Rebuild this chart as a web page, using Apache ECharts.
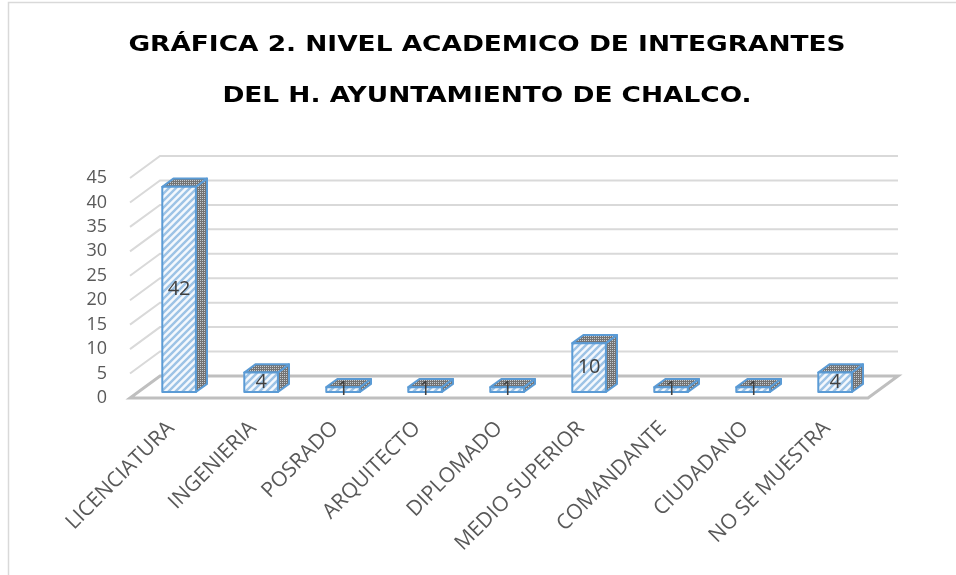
<!DOCTYPE html>
<html>
<head>
<meta charset="utf-8">
<script src="https://cdn.jsdelivr.net/npm/echarts@6/dist/echarts.min.js"></script>
<style>
html, body { margin: 0; background: #fff; }
#chart { width: 956px; height: 575px; }
</style>
</head>
<body>
<div id="chart"></div>
<script>
const categories = ['LICENCIATURA', 'INGENIERIA', 'POSRADO', 'ARQUITECTO', 'DIPLOMADO', 'MEDIO SUPERIOR', 'COMANDANTE', 'CIUDADANO', 'NO SE MUESTRA'];
const values = [42, 4, 1, 1, 1, 10, 1, 1, 4];
const yTicks = [0, 5, 10, 15, 20, 25, 30, 35, 40, 45];
const titleLines = ['GRÁFICA 2. NIVEL ACADEMICO DE INTEGRANTES', 'DEL H. AYUNTAMIENTO DE CHALCO.'];

// profundidad de la caja 3d (px)
const DX = 30, DY = -22;

// relleno rayado de la cara frontal
function stripePattern() {
    const s = 7;
    const c = document.createElement('canvas');
    c.width = s; c.height = s;
    const ctx = c.getContext('2d');
    ctx.fillStyle = '#F4F8FD';
    ctx.fillRect(0, 0, s, s);
    ctx.strokeStyle = '#9DC3E6';
    ctx.lineWidth = 2.4;
    ctx.beginPath();
    ctx.moveTo(-s / 2, s / 2); ctx.lineTo(s / 2, -s / 2);
    ctx.moveTo(0, s); ctx.lineTo(s, 0);
    ctx.moveTo(s / 2, s * 1.5); ctx.lineTo(s * 1.5, s / 2);
    ctx.stroke();
    return c;
}

// relleno punteado de los lados
function dotPattern() {
    const c = document.createElement('canvas');
    c.width = 2; c.height = 2;
    const ctx = c.getContext('2d');
    ctx.fillStyle = '#737373';
    ctx.fillRect(0, 0, 2, 2);
    ctx.fillStyle = '#C4CAD0';
    ctx.fillRect(0, 0, 1, 1);
    return c;
}

const stripes = { image: stripePattern(), repeat: 'repeat' };
const dots = { image: dotPattern(), repeat: 'repeat' };

const chart = echarts.init(document.getElementById('chart'));

// titulo: texto ensanchado para imitar el espaciado entre letras
const titleText = titleLines.map((t, i) => ({
    type: 'text',
    x: 487,
    y: 45 + i * 51,
    scaleX: 1.2,
    silent: true,
    style: {
        text: t,
        x: 0,
        y: 0,
        align: 'center',
        verticalAlign: 'middle',
        fontFamily: 'DejaVu Sans',
        fontSize: 22,
        fontWeight: 'bold',
        fill: '#000'
    }
}));

const option = {
    animation: false,
    graphic: [{
        type: 'rect',
        shape: { x: 8.5, y: 2.5, width: 1000, height: 1000 },
        style: { fill: 'none', stroke: '#D9D9D9', lineWidth: 1.5 },
        silent: true
    }].concat(titleText),
    grid: { left: 130, right: 88, top: 178, bottom: 177, outerBoundsMode: 'none' },
    xAxis: {
        type: 'category',
        data: categories,
        axisLine: { show: false },
        axisTick: { show: false },
        axisLabel: {
            interval: 0,
            rotate: 45,
            margin: 27,
            fontFamily: 'Open Sans',
            fontSize: 21,
            color: '#595959'
        }
    },
    yAxis: {
        type: 'value',
        min: 0,
        max: 45,
        interval: 5,
        axisLine: { show: false },
        axisTick: { show: false },
        splitLine: { show: false },
        axisLabel: {
            margin: 23,
            fontFamily: 'Open Sans',
            fontSize: 18,
            color: '#595959'
        }
    },
    series: [
        {
            // lineas de la pared del fondo
            type: 'custom',
            silent: true,
            data: yTicks.slice(1).map(v => [0, v]),
            renderItem: function (params, api) {
                const cs = params.coordSys;
                const y = api.coord([0, api.value(1)])[1];
                return {
                    type: 'polyline',
                    shape: { points: [[cs.x, y], [cs.x + DX, y + DY], [cs.x + cs.width + DX, y + DY]] },
                    style: { fill: 'none', stroke: '#D9D9D9', lineWidth: 2 }
                };
            }
        },
        {
            // piso
            type: 'custom',
            silent: true,
            data: [[0, 0]],
            renderItem: function (params, api) {
                const cs = params.coordSys;
                const y = api.coord([0, 0])[1];
                const x0 = cs.x, x1 = cs.x + cs.width;
                return {
                    type: 'polygon',
                    shape: { points: [[x0, y], [x1, y], [x1 + DX, y + DY], [x0 + DX, y + DY]] },
                    style: { fill: '#fff', stroke: '#BFBFBF', lineWidth: 3 }
                };
            }
        },
        {
            // barras
            type: 'custom',
            data: values.map((v, i) => [i, v]),
            renderItem: function (params, api) {
                const i = api.value(0);
                const base = api.coord([i, 0]);
                const top = api.coord([i, api.value(1)]);
                const w = api.size([1, 0])[0] * 0.41;
                const f0 = 0.27, fd = 0.37;
                const x0 = base[0] - w / 2 + DX * f0, x1 = x0 + w;
                const yb = base[1] + DY * f0, yt = top[1] + DY * f0;
                const dx = DX * fd, dy = DY * fd;
                const edge = { stroke: '#5B9BD5', lineWidth: 2, lineJoin: 'round' };
                return {
                    type: 'group',
                    children: [
                        {
                            type: 'polygon',
                            shape: { points: [[x1, yb], [x1 + dx, yb + dy], [x1 + dx, yt + dy], [x1, yt]] },
                            style: Object.assign({ fill: dots }, edge)
                        },
                        {
                            type: 'polygon',
                            shape: { points: [[x0, yt], [x1, yt], [x1 + dx, yt + dy], [x0 + dx, yt + dy]] },
                            style: Object.assign({ fill: dots }, edge)
                        },
                        {
                            type: 'rect',
                            shape: { x: x0, y: yt, width: w, height: yb - yt },
                            style: Object.assign({ fill: stripes }, edge)
                        },
                        {
                            type: 'text',
                            style: {
                                text: String(api.value(1)),
                                x: (x0 + x1) / 2,
                                y: (yt + yb) / 2,
                                align: 'center',
                                verticalAlign: 'middle',
                                fontFamily: 'Open Sans',
                                fontSize: 20,
                                fill: '#404040'
                            }
                        }
                    ]
                };
            }
        }
    ]
};

chart.setOption(option);
</script>
</body>
</html>
